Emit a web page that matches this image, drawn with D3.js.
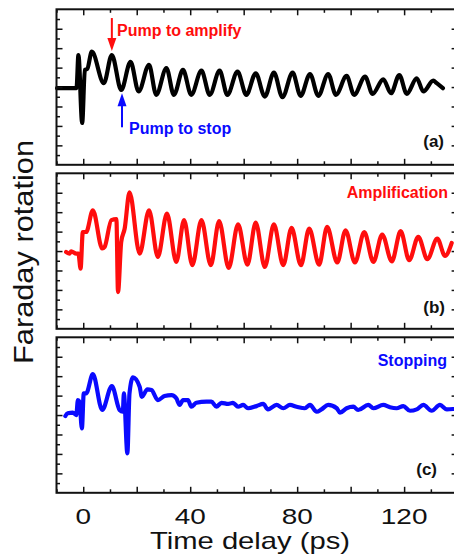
<!DOCTYPE html>
<html>
<head>
<meta charset="utf-8">
<script src="https://cdn.jsdelivr.net/npm/d3@7"></script>
<style>
  body { margin: 0; background: #fff; }
  svg { display: block; font-family: Arial, "Liberation Sans", sans-serif; }
</style>
</head>
<body>
<svg id="chart"></svg>
<script>
// (a) probe pulse only
const timeA = [-9.8, -3.0, -2.5, -1.8, -0.4, 0.6, 1.5, 3.2, 7.7, 10.7, 14.2, 17.7, 20.7, 24.6, 27.3, 31.1, 33.9, 37.3, 40.4, 44.2,
  47.3, 51.0, 53.9, 57.7, 61.0, 64.5, 67.9, 71.3, 74.5, 78.3, 81.3, 84.8, 87.9, 91.6, 94.5, 98.5, 101.3, 105.4, 108.2,
  112.2, 115.1, 118.2, 121.0, 124.7, 127.2, 130.9, 132.2, 134.5];
const rotationA = [-0.06, -0.06, -0.04, 1.65, -1.85, 0.88, 0.93, 1.82, 0.2, 1.65, -0.15, 1.3, -0.23, 1.14, -0.4, 0.97, -0.4, 0.88, -0.4, 0.84,
  -0.4, 0.84, -0.4, 0.79, -0.4, 0.71, -0.49, 0.74, -0.52, 0.74, -0.45, 0.67, -0.45, 0.67, -0.4, 0.57, -0.4, 0.54, -0.35,
  0.4, -0.32, 0.62, -0.35, 0.45, -0.23, 0.33, 0.2, -0.06];

// (b) amplification
const timeB = [-6.4, -5.1, -4.5, -2.6, -1.8, -1.0, -0.15, 1.1, 3.6, 7.1, 8.0, 10.5, 12.4, 13.0, 14.2, 15.5, 17.3, 21.1, 24.6, 27.9,
  31.3, 34.8, 37.7, 40.8, 44.2, 47.7, 50.8, 54.4, 57.9, 61.4, 64.5, 67.9, 71.3, 74.8, 77.9, 81.4, 84.5, 88.2, 91.2, 95.0,
  98.1, 101.6, 105.1, 108.5, 111.8, 115.4, 118.7, 121.9, 125.3, 128.7, 132.4, 135.3, 137.8];
const rotationB = [-0.05, -0.13, -0.01, -0.13, -0.13, -0.9, 0.98, 0.98, 2.1, 0.13, 0.21, 1.59, 1.64, -2.11, 0.47, 1.16, 3.02, -0.13, 2.1, -0.3,
  1.93, -0.56, 1.59, -0.73, 1.59, -0.73, 1.54, -0.87, 1.37, -0.7, 1.47, -0.82, 1.37, -0.73, 1.19, -0.73, 1.16, -0.7, 1.24, -0.59,
  1.07, -0.59, 0.98, -0.56, 0.85, -0.53, 1.02, -0.47, 0.73, -0.42, 0.64, -0.25, 0.42];

// (c) stopping
const timeC = [-6.7, -5.8, -3.9, -2.6, -2.0, -1.4, -0.5, 0.2, 1.1, 3.6, 7.1, 10.7, 13.6, 14.8, 15.2, 16.5, 17.3, 18.6, 21.1, 21.9,
  24.0, 25.5, 27.9, 30.4, 33.0, 34.8, 36.1, 37.3, 39.2, 40.4, 42.3, 46.1, 47.9, 49.8, 51.7, 54.2, 56.0, 57.9, 59.8, 61.6,
  64.8, 67.3, 69.1, 72.3, 74.8, 77.3, 79.8, 82.9, 84.8, 87.3, 89.1, 91.6, 94.8, 96.0, 98.5, 101.0, 102.8, 106.6, 108.5,
  112.2, 114.7, 117.2, 119.7, 122.2, 124.7, 127.2, 130.3, 133.4, 136.0, 138.3];
const rotationC = [-0.05, 0.09, 0.12, 0.0, 0.77, 0.69, -0.69, 1.12, 1.12, 2.11, 0.26, 1.49, 0.26, 0.17, 1.12, -1.97, 1.12, 1.94, 1.46, 0.94,
  1.32, 1.29, 0.77, 0.98, 1.03, 0.86, 0.52, 0.77, 0.77, 0.43, 0.63, 0.69, 0.69, 0.43, 0.63, 0.57, 0.63, 0.43, 0.52, 0.35,
  0.46, 0.57, 0.29, 0.52, 0.35, 0.52, 0.43, 0.35, 0.52, 0.17, 0.29, 0.52, 0.35, 0.12, 0.35, 0.43, 0.26, 0.52, 0.35,
  0.52, 0.40, 0.35, 0.46, 0.22, 0.29, 0.52, 0.22, 0.52, 0.29, 0.31];

const xLabels = [0, 40, 80, 120];
const xMajorTicks = [0, 20, 40, 60, 80, 100, 120, 140];
const xMinorTicks = [-10, 10, 30, 50, 70, 90, 110, 130];
const yMajorTicks = [-3, -2, -1, 0, 1, 2, 3];
const yMinorTicks = [-3.5, -2.5, -1.5, -0.5, 0.5, 1.5, 2.5, 3.5];

const width = 454;
const height = 558;
const panelTops = [9.3, 173.3, 337.3];
const panelHeight = 155.5;

const svg = d3.select("#chart")
    .attr("width", width)
    .attr("height", height);

const x = d3.scaleLinear().domain([-10, 140]).range([56.5, 457.6]);

const panels = [
    { time: timeA, value: rotationA, color: "#000", tag: "(a)", tagX: 444, tagY: 147 },
    { time: timeB, value: rotationB, color: "#ff0d0d", tag: "(b)", tagX: 445, tagY: 313 },
    { time: timeC, value: rotationC, color: "#0a0aff", tag: "(c)", tagX: 437, tagY: 475 }
];

const yScales = [];

panels.forEach((p, i) => {
    const top = panelTops[i];
    const y = d3.scaleLinear().domain([-4, 4]).range([top + panelHeight, top]);
    yScales.push(y);
    const g = svg.append("g");

    const line = d3.line()
        .x((d, k) => x(p.time[k]))
        .y(d => y(d))
        .curve(d3.curveMonotoneX);

    g.append("path")
        .datum(p.value)
        .attr("d", line)
        .attr("fill", "none")
        .attr("stroke", p.color)
        .attr("stroke-width", 4.2)
        .attr("stroke-linejoin", "round")
        .attr("stroke-linecap", "round");

    // inward ticks on all four sides
    const axes = [
        [d3.axisBottom(x), `translate(0,${top + panelHeight})`, xMajorTicks, xMinorTicks],
        [d3.axisTop(x), `translate(0,${top})`, xMajorTicks, xMinorTicks],
        [d3.axisLeft(y), `translate(${x(-10)},0)`, yMajorTicks, yMinorTicks],
        [d3.axisRight(y), `translate(${x(140)},0)`, yMajorTicks, yMinorTicks]
    ];
    axes.forEach(([axis, tr, major, minor]) => {
        g.append("g").attr("transform", tr)
            .call(axis.tickValues(major).tickSize(-6).tickFormat(""));
        g.append("g").attr("transform", tr)
            .call(axis.tickValues(minor).tickSize(-3.5).tickFormat(""));
    });
    g.selectAll(".domain").remove();
    g.selectAll(".tick line").attr("stroke", "#111").attr("stroke-width", 1.5);

    g.append("rect")
        .attr("x", x(-10))
        .attr("y", top)
        .attr("width", x(140) - x(-10))
        .attr("height", panelHeight)
        .attr("fill", "none")
        .attr("stroke", "#111")
        .attr("stroke-width", 2);

    g.append("text")
        .attr("x", p.tagX)
        .attr("y", p.tagY)
        .attr("text-anchor", "end")
        .attr("font-size", 17)
        .attr("font-weight", "bold")
        .attr("fill", "#111")
        .text(p.tag);
});

// annotations
const yA = yScales[0];
const arrowHead = (tx, ty, dir) => `M${tx},${ty} L${tx - 4.5},${ty - dir * 13} L${tx + 4.5},${ty - dir * 13} Z`;

svg.append("line")
    .attr("x1", x(10.7)).attr("x2", x(10.7))
    .attr("y1", yA(3.55)).attr("y2", yA(2.3))
    .attr("stroke", "#ff0d0d").attr("stroke-width", 2);
svg.append("path")
    .attr("d", arrowHead(x(10.7), yA(1.85), 1))
    .attr("fill", "#ff0d0d");

svg.append("line")
    .attr("x1", x(14.5)).attr("x2", x(14.5))
    .attr("y1", yA(-2.07)).attr("y2", yA(-0.8))
    .attr("stroke", "#0a0aff").attr("stroke-width", 2);
svg.append("path")
    .attr("d", arrowHead(x(14.5), yA(-0.32), -1))
    .attr("fill", "#0a0aff");

const note = (tx, ty, txt, color, anchor) => svg.append("text")
    .attr("x", tx).attr("y", ty)
    .attr("text-anchor", anchor)
    .attr("font-size", 16)
    .attr("font-weight", "bold")
    .attr("fill", color)
    .text(txt);

note(117, 36, "Pump to amplify", "#ff0d0d", "start");
note(129, 134, "Pump to stop", "#0a0aff", "start");
note(448, 198, "Amplification", "#ff0d0d", "end");
note(447, 366, "Stopping", "#0a0aff", "end");

// x tick labels and titles
svg.selectAll(".xlabel")
    .data(xLabels)
    .enter()
    .append("text")
    .attr("class", "xlabel")
    .attr("transform", d => `translate(${x(d)},523.5) scale(1.27,1)`)
    .attr("text-anchor", "middle")
    .attr("font-size", 22)
    .attr("fill", "#111")
    .text(d => d);

svg.append("text")
    .attr("transform", "translate(250,548.5) scale(1.27,1)")
    .attr("text-anchor", "middle")
    .attr("font-size", 23)
    .attr("fill", "#111")
    .text("Time delay (ps)");

svg.append("text")
    .attr("transform", "translate(33,252) rotate(-90) scale(1.14,1)")
    .attr("text-anchor", "middle")
    .attr("font-size", 27)
    .attr("fill", "#111")
    .text("Faraday rotation");
</script>
</body>
</html>
